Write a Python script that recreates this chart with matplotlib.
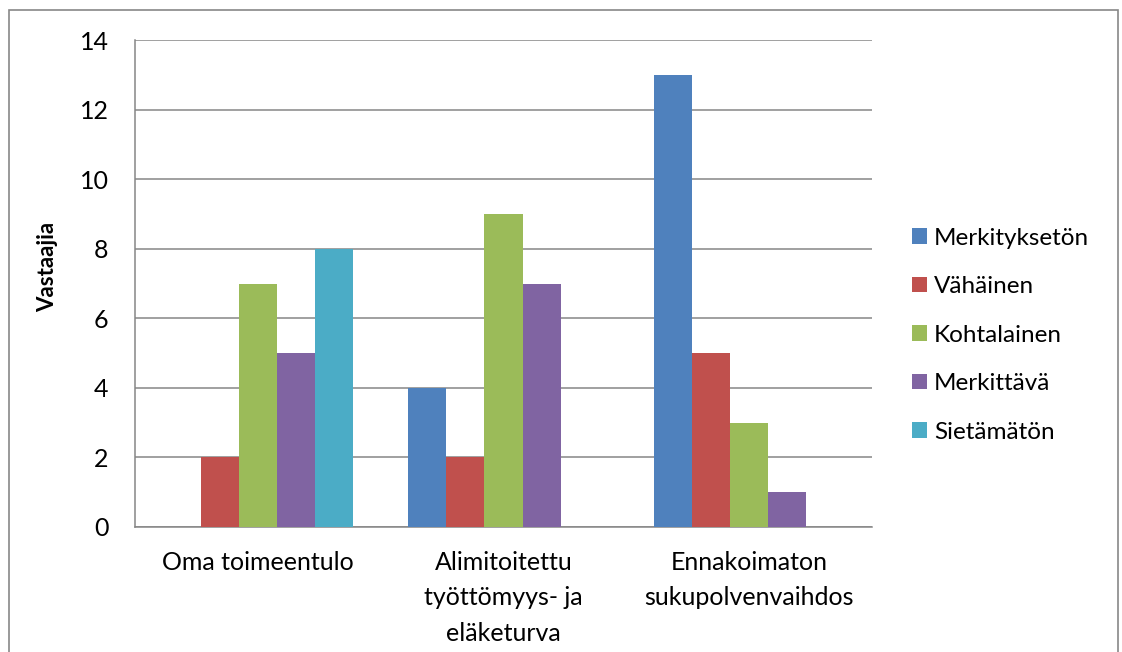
import matplotlib
matplotlib.use("Agg")
import matplotlib.pyplot as plt
import numpy as np
from matplotlib.patches import Rectangle

categories = ["Oma toimeentulo", "Alimitoitettu\ntyöttömyys- ja\neläketurva", "Ennakoimaton\nsukupolvenvaihdos"]
series_names = ["Merkityksetön", "Vähäinen", "Kohtalainen", "Merkittävä", "Sietämätön"]
series_values = [
    [0, 4, 13],
    [2, 2, 5],
    [7, 9, 3],
    [5, 7, 1],
    [8, 0, 0],
]
colors = ["#4F81BD", "#C0504D", "#9BBB59", "#8064A2", "#4BACC6"]
yticks = [0, 2, 4, 6, 8, 10, 12, 14]

plt.rcParams["font.family"] = ["Lato", "DejaVu Sans"]

fig = plt.figure(figsize=(11.22, 6.52), dpi=100)
fig.patches.append(Rectangle((9 / 1122, -0.1), (1118 - 9) / 1122, 1.1 - 10 / 652,
                             transform=fig.transFigure, fill=False,
                             edgecolor="#878787", linewidth=1.2))

ax = fig.add_axes([135 / 1122, 1 - 527 / 652, (872 - 135) / 1122, (527 - 40) / 652])

x = np.arange(len(categories))
w = 0.1547
n = len(series_names)
for i, (name, vals, c) in enumerate(zip(series_names, series_values, colors)):
    ax.bar(x + (i - (n - 1) / 2) * w, vals, width=w, color=c, label=name, zorder=3)

ax.set_xlim(-0.5, len(categories) - 0.5)
ax.set_ylim(0, 14)
ax.set_yticks(yticks)
ax.set_yticklabels([str(t) for t in yticks], fontsize=18)
ax.set_xticks(x)
ax.set_xticklabels(categories, fontsize=18, linespacing=1.66, va="top")
ax.tick_params(axis="both", length=0)
ax.tick_params(axis="y", pad=19)
ax.tick_params(axis="x", pad=17)
ax.grid(axis="y", color="#868686", linewidth=1.1, zorder=0)
for s in ax.spines.values():
    s.set_color("#868686")
    s.set_linewidth(1.1)
ax.spines["top"].set_visible(False)
ax.spines["right"].set_visible(False)
ax.set_ylabel("Vastaajia", fontsize=16, fontweight="bold")
ax.yaxis.set_label_coords(-0.1045, 0.534)

leg = ax.legend(loc="center left", bbox_to_anchor=(1.025, 0.394), frameon=False,
                fontsize=17.5, handlelength=0.6, handleheight=0.6,
                handletextpad=0.3, labelspacing=1.13)

fig.savefig("out.png", dpi=100)
